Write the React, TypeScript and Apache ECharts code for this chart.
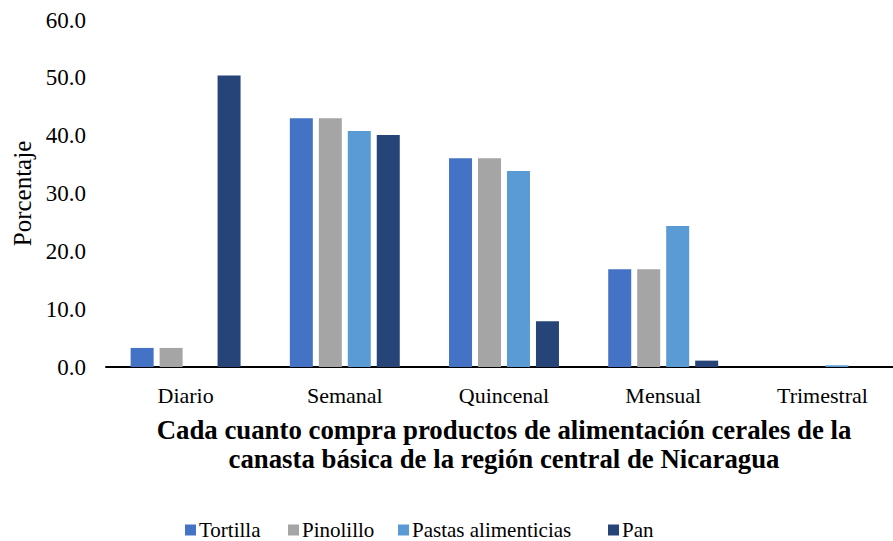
import React, { useEffect, useRef } from "react";
import * as echarts from "echarts";

const categories = ["Diario", "Semanal", "Quincenal", "Mensual", "Trimestral"];
const tortilla = [3.3, 43.0, 36.1, 16.9, 0];
const pinolillo = [3.3, 43.0, 36.1, 16.9, 0];
const pastas = [0, 40.8, 33.9, 24.4, 0.3];
const pan = [50.4, 40.1, 7.9, 1.1, 0];
const seriesNames = ["Tortilla", "Pinolillo", "Pastas alimenticias", "Pan"];
const colors = ["#4472C4", "#A5A5A5", "#5B9BD5", "#264478"];
const yTicks = { min: 0, max: 60, interval: 10 };

const FONT = "'Liberation Serif', 'Times New Roman', serif";

export default function App() {
  const ref = useRef<HTMLDivElement>(null);
  useEffect(() => {
    if (!ref.current) return;
    const chart = echarts.init(ref.current, undefined, { renderer: "svg" });
    const data = [tortilla, pinolillo, pastas, pan];
    const legendLefts = [185, 288, 398, 608];
    const legendY = 530;
    const legendGraphics: any[] = [];
    seriesNames.forEach((n, i) => {
      legendGraphics.push({
        type: "rect",
        shape: { x: legendLefts[i], y: legendY - 5.5, width: 11, height: 11 },
        style: { fill: colors[i] },
      });
      legendGraphics.push({
        type: "text",
        x: legendLefts[i] + 14,
        y: legendY,
        style: {
          text: n,
          fontFamily: FONT,
          fontSize: 21,
          fill: "#000",
          verticalAlign: "middle",
          align: "left",
        },
      });
    });
    chart.setOption({
      animation: false,
      textStyle: { fontFamily: FONT, color: "#000" },
      grid: { left: 106, top: 20, width: 796, height: 347, outerBoundsMode: "none", containLabel: false },
      graphic: legendGraphics,
      xAxis: {
        type: "category",
        data: categories,
        axisTick: { show: false },
        axisLine: { lineStyle: { color: "#000", width: 2 } },
        axisLabel: { margin: 17, fontFamily: FONT, fontSize: 22, color: "#000" },
        name: "Cada cuanto compra productos de alimentación cerales de la\ncanasta básica de la región central de Nicaragua",
        nameLocation: "middle",
        nameGap: 48,
        nameTextStyle: { fontFamily: FONT, fontSize: 26.8, fontWeight: "bold", color: "#000", lineHeight: 29 },
      },
      yAxis: {
        type: "value",
        min: yTicks.min,
        max: yTicks.max,
        interval: yTicks.interval,
        axisLine: { show: false },
        axisTick: { show: false },
        splitLine: { show: false },
        axisLabel: {
          margin: 20,
          fontFamily: FONT,
          fontSize: 23,
          color: "#000",
          formatter: (v: number) => v.toFixed(1),
        },
        name: "Porcentaje",
        nameLocation: "middle",
        nameGap: 70,
        nameTextStyle: { fontFamily: FONT, fontSize: 25, color: "#000" },
      },
      series: seriesNames.map((n, i) => ({
        name: n,
        type: "bar",
        data: data[i],
        barWidth: 23,
        barGap: "26%",
        itemStyle: { color: colors[i] },
      })),
    });
    return () => chart.dispose();
  }, []);
  return (
    <div
      ref={ref}
      style={{ position: "absolute", left: 0, top: 0, width: 893, height: 541, background: "#fff" }}
    />
  );
}
